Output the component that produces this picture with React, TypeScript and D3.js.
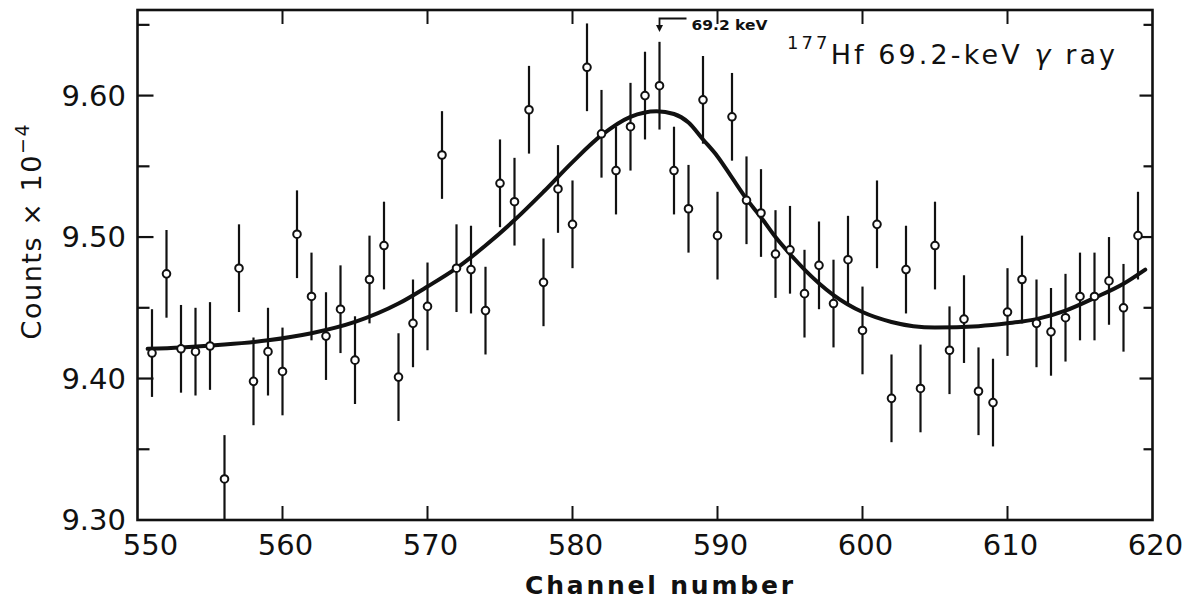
import React from "react";
import * as d3 from "d3";

// ---- data ----
const channels = [
  551, 552, 553, 554, 555, 556, 557, 558, 559, 560,
  561, 562, 563, 564, 565, 566, 567, 568, 569, 570,
  571, 572, 573, 574, 575, 576, 577, 578, 579, 580,
  581, 582, 583, 584, 585, 586, 587, 588, 589, 590,
  591, 592, 593, 594, 595, 596, 597, 598, 599, 600,
  601, 602, 603, 604, 605, 606, 607, 608, 609, 610,
  611, 612, 613, 614, 615, 616, 617, 618, 619,
];
const counts = [
  9.418, 9.474, 9.421, 9.419, 9.423, 9.329, 9.478, 9.398, 9.419, 9.405,
  9.502, 9.458, 9.430, 9.449, 9.413, 9.470, 9.494, 9.401, 9.439, 9.451,
  9.558, 9.478, 9.477, 9.448, 9.538, 9.525, 9.590, 9.468, 9.534, 9.509,
  9.620, 9.573, 9.547, 9.578, 9.600, 9.607, 9.547, 9.520, 9.597, 9.501,
  9.585, 9.526, 9.517, 9.488, 9.491, 9.460, 9.480, 9.453, 9.484, 9.434,
  9.509, 9.386, 9.477, 9.393, 9.494, 9.420, 9.442, 9.391, 9.383, 9.447,
  9.470, 9.439, 9.433, 9.443, 9.458, 9.458, 9.469, 9.450, 9.501,
];
const errorHalf = 0.031;

const fitX = [
  550.7, 553, 556, 559, 562, 565, 568, 570, 572, 574, 576, 578, 580, 582, 584,
  585.8, 587, 588, 589, 590, 591, 592, 593, 594, 595, 596, 598, 600, 602, 605,
  608, 610, 612, 614, 616, 618, 619.5,
];
const fitY = [
  9.421, 9.422, 9.424, 9.427, 9.432, 9.44, 9.453, 9.465, 9.478, 9.494, 9.512, 9.532, 9.553, 9.572, 9.585,
  9.589, 9.587, 9.581, 9.569, 9.557, 9.542, 9.527, 9.514, 9.5, 9.488, 9.477, 9.459, 9.447, 9.44, 9.436,
  9.437, 9.439, 9.442, 9.448, 9.457, 9.467, 9.477,
];

const xTicks = [550, 560, 570, 580, 590, 600, 610, 620];
const yMajorTicks = [9.3, 9.4, 9.5, 9.6];
const yMinorTicks = [9.35, 9.45, 9.55, 9.65];
const yTickLabels = ["9.30", "9.40", "9.50", "9.60"];
const peakChannel = 586;
const peakLabel = "69.2 keV";

const W = 1191;
const H = 605;
const FONT = "'DejaVu Sans', 'Noto Sans', sans-serif";

export default function App() {
  const x = d3.scaleLinear().domain([550, 620]).range([137.5, 1152.5]);
  const y = d3.scaleLinear().domain([9.3, 9.6605]).range([520, 10]);
  const [x0, x1] = x.range();
  const [yb, yt] = y.range();

  const fitLine = d3
    .line<number>()
    .x((_, i) => x(fitX[i]))
    .y((d) => y(d))
    .curve(d3.curveMonotoneX);

  const ink = "#111";

  return (
    <svg
      width={W}
      height={H}
      style={{ position: "absolute", left: 0, top: 0, background: "#fff" }}
      fontFamily={FONT}
    >
      <rect x={0} y={0} width={W} height={H} fill="#fff" />
      {/* frame */}
      <rect x={x0} y={yt} width={x1 - x0} height={yb - yt} fill="none" stroke={ink} strokeWidth={2.6} />

      {/* x ticks bottom and top */}
      {xTicks.slice(1, -1).map((t) => (
        <g key={"xt" + t}>
          <line x1={x(t)} x2={x(t)} y1={yb} y2={yb - 14} stroke={ink} strokeWidth={2} />
          <line x1={x(t)} x2={x(t)} y1={yt} y2={yt + 14} stroke={ink} strokeWidth={2} />
        </g>
      ))}
      {/* y ticks */}
      {yMajorTicks.slice(1).map((t) => (
        <g key={"ymj" + t}>
          <line x1={x0} x2={x0 + 16} y1={y(t)} y2={y(t)} stroke={ink} strokeWidth={2.2} />
          <line x1={x1} x2={x1 - 13} y1={y(t)} y2={y(t)} stroke={ink} strokeWidth={2.2} />
        </g>
      ))}
      {yMinorTicks.map((t) => (
        <g key={"ymn" + t}>
          <line x1={x0} x2={x0 + 12} y1={y(t)} y2={y(t)} stroke={ink} strokeWidth={2.2} />
          <line x1={x1} x2={x1 - 9} y1={y(t)} y2={y(t)} stroke={ink} strokeWidth={2.2} />
        </g>
      ))}

      {/* tick labels */}
      {xTicks.map((t, i) => (
        <text
          key={"xl" + t}
          x={x(t) + 3 + (i === 0 ? 10 : 0)}
          y={555}
          textAnchor="middle"
          fontSize={29}
          fill={ink}
        >
          {String(t)}
        </text>
      ))}
      {yMajorTicks.map((t, i) => (
        <text
          key={"yl" + t}
          x={126}
          y={y(t)}
          dy="0.36em"
          textAnchor="end"
          fontSize={29}
          fill={ink}
        >
          {yTickLabels[i]}
        </text>
      ))}

      {/* axis titles */}
      <text x={659} y={594} textAnchor="middle" fontSize={25} fontWeight="bold" textLength={268} lengthAdjust="spacing" fill={ink}>
        Channel number
      </text>
      <text
        transform={`translate(41, 232) rotate(-90)`}
        textAnchor="middle"
        fontSize={27}
        fill={ink}
        textLength={215}
        lengthAdjust="spacing"
      >
        <tspan>Counts  ×  10</tspan>
        <tspan fontSize={19} dy={-12}>−4</tspan>
      </text>

      {/* fit curve */}
      <path d={fitLine(fitY) || ""} fill="none" stroke={ink} strokeWidth={4} strokeLinejoin="round" strokeLinecap="round" />

      {/* error bars + points */}
      {channels.map((c, i) => (
        <line
          key={"e" + c}
          x1={x(c)}
          x2={x(c)}
          y1={Math.min(yb, y(counts[i] - errorHalf))}
          y2={y(counts[i] + errorHalf)}
          stroke={ink}
          strokeWidth={2.2}
        />
      ))}
      {channels.map((c, i) => (
        <circle key={"p" + c} cx={x(c)} cy={y(counts[i])} r={3.8} fill="#fff" stroke={ink} strokeWidth={2} />
      ))}

      {/* peak marker */}
      <path
        d={`M${x(peakChannel) + 27},${18.5} H${x(peakChannel)} V${27}`}
        fill="none"
        stroke={ink}
        strokeWidth={1.8}
      />
      <path
        d={`M${x(peakChannel) - 3.5},${25} L${x(peakChannel) + 3.5},${25} L${x(peakChannel)},${32} Z`}
        fill={ink}
      />
      <text x={x(peakChannel) + 32} y={30} fontSize={14} fontWeight="bold" textLength={76} lengthAdjust="spacingAndGlyphs" fill={ink}>
        {peakLabel}
      </text>

      {/* title */}
      <text x={787} y={64} fontSize={27} fill={ink} textLength={328} lengthAdjust="spacing">
        <tspan fontSize={18} dy={-15}>177</tspan>
        <tspan dy={15}>Hf 69.2-keV  </tspan>
        <tspan fontStyle="italic">γ</tspan>
        <tspan> ray</tspan>
      </text>
    </svg>
  );
}
